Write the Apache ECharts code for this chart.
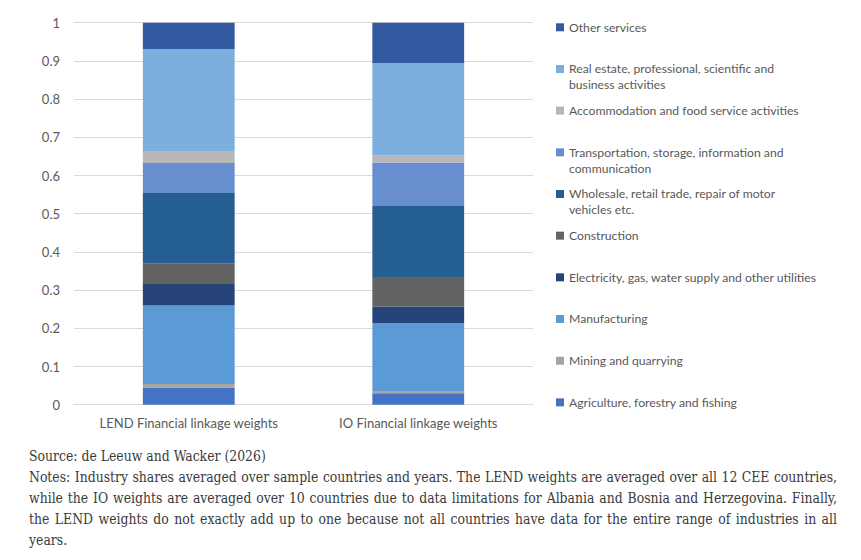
<!DOCTYPE html>
<html>
<head>
<meta charset="utf-8">
<script src="https://cdn.jsdelivr.net/npm/echarts@6/dist/echarts.min.js"></script>
<style>
  html, body { margin: 0; padding: 0; background: #fff; }
  #wrap { position: relative; width: 861px; height: 560px; overflow: hidden; }
  #chart { position: absolute; left: 0; top: 0; width: 861px; height: 440px; }
  #notes { position: absolute; left: 29px; top: 446px; width: 808px; color: #3A3A3A;
           font-family: "DejaVu Serif Condensed", "DejaVu Serif", serif; line-height: 21px; }
  #notes div { white-space: nowrap; }
  #notes .j { text-align: justify; text-align-last: justify; }
</style>
</head>
<body>
<div id="wrap">
  <div id="chart"></div>
  <div id="notes">
    <div>Source: de Leeuw and Wacker (2026)</div>
    <div class="j">Notes: Industry shares averaged over sample countries and years. The LEND weights are averaged over all 12 CEE countries,</div>
    <div class="j">while the IO weights are averaged over 10 countries due to data limitations for Albania and Bosnia and Herzegovina. Finally,</div>
    <div class="j">the LEND weights do not exactly add up to one because not all countries have data for the entire range of industries in all</div>
    <div>years.</div>
  </div>
</div>
<script>
// ---- data ----
const categories = ['LEND Financial linkage weights', 'IO Financial linkage weights'];
const industries = [
  'Agriculture, forestry and fishing',
  'Mining and quarrying',
  'Manufacturing',
  'Electricity, gas, water supply and other utilities',
  'Construction',
  'Wholesale, retail trade, repair of motor vehicles etc.',
  'Transportation, storage, information and communication',
  'Accommodation and food service activities',
  'Real estate, professional, scientific and business activities',
  'Other services'
];
const legendLabels = [
  'Agriculture, forestry and fishing',
  'Mining and quarrying',
  'Manufacturing',
  'Electricity, gas, water supply and other utilities',
  'Construction',
  'Wholesale, retail trade, repair of motor\nvehicles etc.',
  'Transportation, storage, information and\ncommunication',
  'Accommodation and food service activities',
  'Real estate, professional, scientific and\nbusiness activities',
  'Other services'
];
const lendShares = [0.045, 0.009, 0.206, 0.056, 0.054, 0.184, 0.079, 0.029, 0.269, 0.069];
const ioShares   = [0.030, 0.006, 0.178, 0.043, 0.077, 0.186, 0.114, 0.019, 0.241, 0.106];
const yTicks = [0, 0.1, 0.2, 0.3, 0.4, 0.5, 0.6, 0.7, 0.8, 0.9, 1];

// ---- styles ----
const colors = ['#4472C4', '#A5A5A5', '#5B9BD5', '#264478', '#636363',
                '#255E91', '#698ED0', '#B7B7B7', '#7CAFDD', '#335AA1'];
const uiFont = 'Lato';

// fit note font size to target width
(function fitNotes() {
  const c = document.createElement('canvas').getContext('2d');
  const fam = '"DejaVu Serif Condensed", "DejaVu Serif", serif';
  c.font = '14px ' + fam;
  const w = c.measureText('Notes: Industry shares averaged over sample countries and years. The LEND weights are averaged over all 12 CEE countries,').width;
  const fs = Math.min(16, 14 * 800 / w);
  document.getElementById('notes').style.fontSize = fs.toFixed(2) + 'px';
})();

const chart = echarts.init(document.getElementById('chart'), null, { renderer: 'svg' });

const series = industries.map((name, i) => ({
  name: name,
  type: 'bar',
  stack: 'total',
  barWidth: '40%',
  itemStyle: { color: colors[i] },
  emphasis: { disabled: true },
  data: [lendShares[i], ioShares[i]]
}));

// one legend per item, listed top-to-bottom in reverse stack order
const legends = [];
for (let k = 0; k < industries.length; k++) {
  const i = industries.length - 1 - k;
  const twoLine = legendLabels[i].indexOf('\n') >= 0;
  const center = 27.3 + k * 41.67;
  legends.push({
    data: [industries[i]],
    left: 556,
    top: twoLine ? center - 24 : center - 8,
    padding: 0,
    itemWidth: 8,
    itemHeight: 8,
    icon: 'rect',
    selectedMode: false,
    formatter: () => (twoLine ? '\n' + legendLabels[i] : legendLabels[i]),
    textStyle: { color: '#595959', fontFamily: uiFont, fontSize: 12.2, lineHeight: 16 }
  });
}

chart.setOption({
  animation: false,
  color: colors,
  grid: { left: 74, right: 328, top: 22.7, bottom: 35.3, containLabel: false },
  legend: legends,
  xAxis: {
    type: 'category',
    data: categories,
    axisLine: { show: true, lineStyle: { color: '#D9D9D9', width: 1 } },
    axisTick: { show: false },
    axisLabel: { color: '#595959', fontFamily: uiFont, fontSize: 13, margin: 12, interval: 0 }
  },
  yAxis: {
    type: 'value',
    min: 0,
    max: 1,
    interval: 0.1,
    axisLine: { show: false },
    axisTick: { show: false },
    splitLine: { lineStyle: { color: '#D9D9D9', width: 1 } },
    axisLabel: {
      color: '#595959', fontFamily: uiFont, fontSize: 13, margin: 14,
      formatter: v => {
        const t = yTicks.find(x => Math.abs(x - v) < 1e-9);
        return t === undefined ? '' : String(t);
      }
    }
  },
  series: series
});
</script>
</body>
</html>
